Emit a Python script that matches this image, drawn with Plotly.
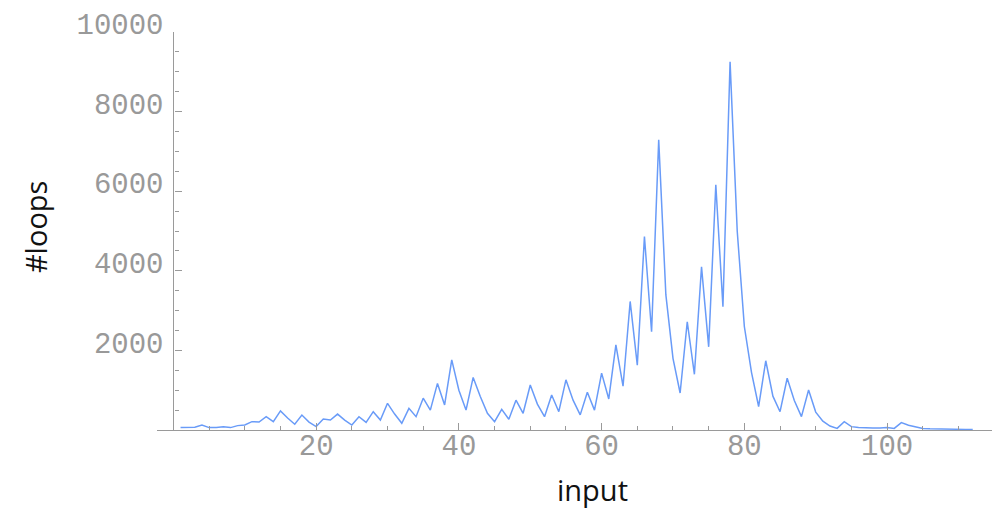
import plotly.graph_objects as go

inputs = list(range(1, 113))
loops = [60, 60, 70, 125, 60, 60, 80, 60, 110, 125,
         210, 200, 335, 210, 480, 300, 145, 375, 200, 85,
         275, 250, 400, 250, 125, 335, 190, 460, 250, 670,
         400, 170, 545, 335, 800, 500, 1170, 630, 1760, 1000,
         500, 1320, 840, 420, 210, 520, 270, 750, 420, 1130,
         650, 335, 880, 460, 1260, 750, 380, 950, 500, 1430,
         780, 2140, 1100, 3230, 1630, 4860, 2470, 7290, 3400, 1800,
         930, 2720, 1400, 4100, 2090, 6160, 3100, 9250, 5000, 2600,
         1450, 590, 1740, 850, 460, 1300, 740, 335, 1005, 450,
         220, 100, 40, 210, 85, 60, 50, 50, 50, 60,
         40, 185, 120, 80, 40, 30, 30, 30, 25, 20,
         15, 10]

x_ticks = [20, 40, 60, 80, 100]
x_tick_text = ["20", "40", "60", "80", "100"]
y_ticks = [2000, 4000, 6000, 8000, 10000]
y_tick_text = ["2000", "4000", "6000", "8000", "10000"]
x_title = "input"
y_title = "#loops"

x_range = [-2.3, 114.7]
y_range = [0, 10000]

fig = go.Figure()
fig.add_trace(go.Scatter(x=inputs, y=loops, mode="lines",
                         line=dict(color="rgb(105,155,248)", width=1.5),
                         hoverinfo="skip"))

tick_font = dict(family="Liberation Mono", size=29, color="#999999")
axis_col = "#9a9a9a"

fig.update_layout(
    width=994, height=510,
    margin=dict(l=157, r=2, t=32, b=80, autoexpand=False),
    paper_bgcolor="white", plot_bgcolor="white",
    showlegend=False,
    xaxis=dict(range=x_range, showgrid=False, zeroline=False, automargin=False,
               showline=True, linecolor=axis_col, linewidth=1.2,
               tickmode="array", tickvals=x_ticks, ticktext=x_tick_text,
               ticks="inside",
               ticklen=7, tickcolor=axis_col, tickwidth=1.2,
               tickfont=tick_font, ticklabelstandoff=-11,
               minor=dict(tickmode="linear", tick0=0, dtick=5, ticks="inside",
                          ticklen=4, tickcolor=axis_col, tickwidth=1)),
    yaxis=dict(range=y_range, showgrid=False, zeroline=False, automargin=False,
               anchor="free", position=(0 - x_range[0]) / (x_range[1] - x_range[0]),
               showline=True, linecolor=axis_col, linewidth=1.2,
               tickmode="array", tickvals=y_ticks, ticktext=y_tick_text,
               ticks="inside",
               ticklen=7, tickcolor=axis_col, tickwidth=1.2,
               tickfont=tick_font, ticklabelshift=-8, ticklabelstandoff=4,
               minor=dict(tickmode="linear", tick0=0, dtick=500, ticks="inside",
                          ticklen=4, tickcolor=axis_col, tickwidth=1)),
    annotations=[
        dict(text=x_title, xref="paper", yref="paper", x=0.522, y=-0.15,
             xanchor="center", yanchor="middle", showarrow=False,
             font=dict(family="Open Sans", size=29, color="#111")),
        dict(text=y_title, xref="paper", yref="paper", x=-0.146, y=0.51,
             xanchor="center", yanchor="middle", showarrow=False, textangle=-90,
             font=dict(family="Open Sans", size=29, color="#111")),
    ],
)

fig.write_html("out.html", config={"displayModeBar": False},
               post_script="document.body.style.margin='0';document.body.style.overflow='hidden';")
